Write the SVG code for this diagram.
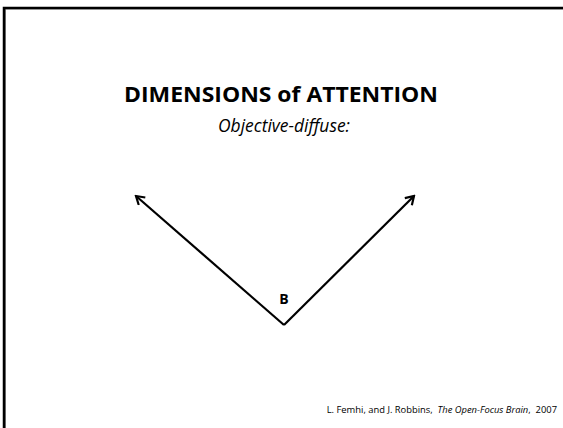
<svg xmlns="http://www.w3.org/2000/svg" width="563" height="428" viewBox="0 0 563 428">
<style>
.t{font-family:"Open Sans","Liberation Sans",sans-serif;fill:#000}
.c{stroke:#000;stroke-width:2.2;fill:none}
</style>
<defs>
<marker id="ah" viewBox="0 0 12 12" refX="10" refY="6" markerWidth="12" markerHeight="12" markerUnits="userSpaceOnUse" orient="auto">
<path d="M2,1 L10,6 L2,11" fill="none" stroke="#000" stroke-width="2.2"/>
</marker>
</defs>
<rect x="0" y="0" width="563" height="428" fill="#fff"/>
<path d="M5.5,428 V9 H563" fill="none" stroke="#888" stroke-width="1"/>
<path d="M4,428 V8 H563" fill="none" stroke="#000" stroke-width="2.5"/>
<g id="title"><text class="t" x="281" y="102" font-size="20.5" font-weight="bold" text-anchor="middle" textLength="314" lengthAdjust="spacingAndGlyphs">DIMENSIONS of ATTENTION</text></g>
<g id="subtitle"><text class="t" x="284" y="132" font-size="18" font-style="italic" text-anchor="middle" textLength="132" lengthAdjust="spacingAndGlyphs">Objective-diffuse:</text></g>
<g id="connectors">
<path class="c" d="M284,325 L136,196" marker-end="url(#ah)"/>
<path class="c" d="M284,325 L414,196" marker-end="url(#ah)"/>
</g>
<g id="nodeB"><text class="t" x="284" y="304" font-size="14" font-weight="bold" text-anchor="middle">B</text></g>
<g id="citation"><text class="t" x="557" y="413" font-size="9.4" text-anchor="end">L. Femhi, and J. Robbins,&#160; <tspan font-style="italic">The Open-Focus Brain</tspan>,&#160; 2007</text></g>
</svg>
